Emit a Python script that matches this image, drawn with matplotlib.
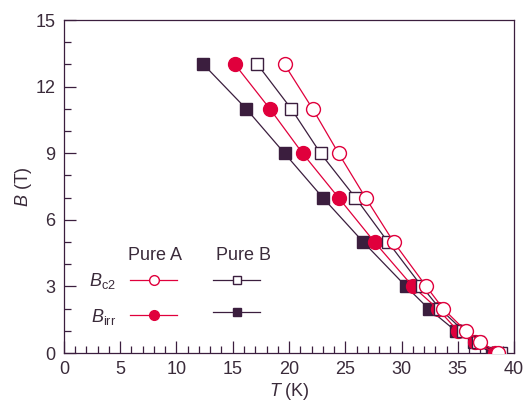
import matplotlib
matplotlib.use("Agg")
import matplotlib.pyplot as plt
from matplotlib.lines import Line2D
from matplotlib.ticker import MultipleLocator

plt.rcParams['font.family'] = ['Liberation Sans', 'DejaVu Sans']
plt.rcParams['mathtext.fontset'] = 'custom'
plt.rcParams['mathtext.rm'] = 'Liberation Sans'
plt.rcParams['mathtext.it'] = 'Liberation Sans:italic'

# field values (T)
b_levels = [13, 11, 9, 7, 5, 3, 2, 1, 0.5, 0]

# temperatures (K)
t_a_bc2 = [19.6, 22.1, 24.4, 26.8, 29.3, 32.2, 33.7, 35.7, 37.0, 38.6]
t_a_irr = [15.2, 18.3, 21.2, 24.4, 27.6, 31.0, 33.2, 35.0, 36.5, 38.3]
t_b_bc2 = [17.2, 20.2, 22.8, 25.9, 28.8, 31.8, 33.4, 35.5, 36.8, 38.8]
t_b_irr = [12.4, 16.2, 19.6, 23.0, 26.6, 30.4, 32.4, 34.8, 36.4, 38.0]

red = '#e0003c'
dark = '#3b1e3e'
txt = '#3a2b3a'

fig = plt.figure(figsize=(5.28, 4.01), dpi=100)
ax = fig.add_axes([0.1212, 0.1197, 0.8523, 0.8303])

ax.plot(t_b_irr, b_levels, '-s', color=dark, lw=0.9, ms=8.5, mfc=dark, mec=dark, zorder=3)
ax.plot(t_a_irr, b_levels, '-o', color=red, lw=0.9, ms=10, mfc=red, mec=red, zorder=4)
ax.plot(t_b_bc2, b_levels, '-s', color=dark, lw=0.9, ms=8.5, mfc='white', mec=dark, mew=1.0, zorder=5)
ax.plot(t_a_bc2, b_levels, '-o', color=red, lw=0.9, ms=10, mfc='white', mec=red, mew=1.0, zorder=6)

ax.set_xlim(0, 40)
ax.set_ylim(0, 15)
ax.xaxis.set_major_locator(MultipleLocator(5))
ax.xaxis.set_minor_locator(MultipleLocator(1))
ax.yaxis.set_major_locator(MultipleLocator(3))
ax.yaxis.set_minor_locator(MultipleLocator(1))
ax.tick_params(which='both', direction='in', colors=dark, labelcolor=txt,
               labelsize=13, width=0.9)
ax.tick_params(which='major', length=8.5, pad=6)
ax.tick_params(which='minor', length=5)
for s in ax.spines.values():
    s.set_color(dark)
    s.set_linewidth(0.9)

ax.set_xlabel('$T$ (K)', fontsize=13, color=txt, labelpad=2)
ax.set_ylabel('$B$ (T)', fontsize=13, color=txt, labelpad=1)

# legend: rows B_c2 / B_irr, columns Pure A / Pure B
handles = [
    Line2D([], [], color=red, lw=0.9, marker='o', ms=7, mfc='white', mec=red),
    Line2D([], [], color=red, lw=0.9, marker='o', ms=7, mfc=red, mec=red),
    Line2D([], [], color=dark, lw=0.9, marker='s', ms=6, mfc='white', mec=dark),
    Line2D([], [], color=dark, lw=0.9, marker='s', ms=6, mfc=dark, mec=dark),
]
labels = [r'$B_{\mathrm{c2}}$', r'$B_{\mathrm{irr}}$', '', '']
leg = ax.legend(handles, labels, ncol=2, markerfirst=False, frameon=False,
                fontsize=13, handlelength=2.6, handletextpad=0.8,
                columnspacing=1.2, labelspacing=0.85,
                loc='lower left', bbox_to_anchor=(0.02, 0.03))
for t in leg.get_texts():
    t.set_color(txt)
ax.text(0.202, 0.294, 'Pure A', transform=ax.transAxes, ha='center', va='center',
        fontsize=13, color=txt)
ax.text(0.398, 0.294, 'Pure B', transform=ax.transAxes, ha='center', va='center',
        fontsize=13, color=txt)

fig.savefig('out.png', dpi=100)
